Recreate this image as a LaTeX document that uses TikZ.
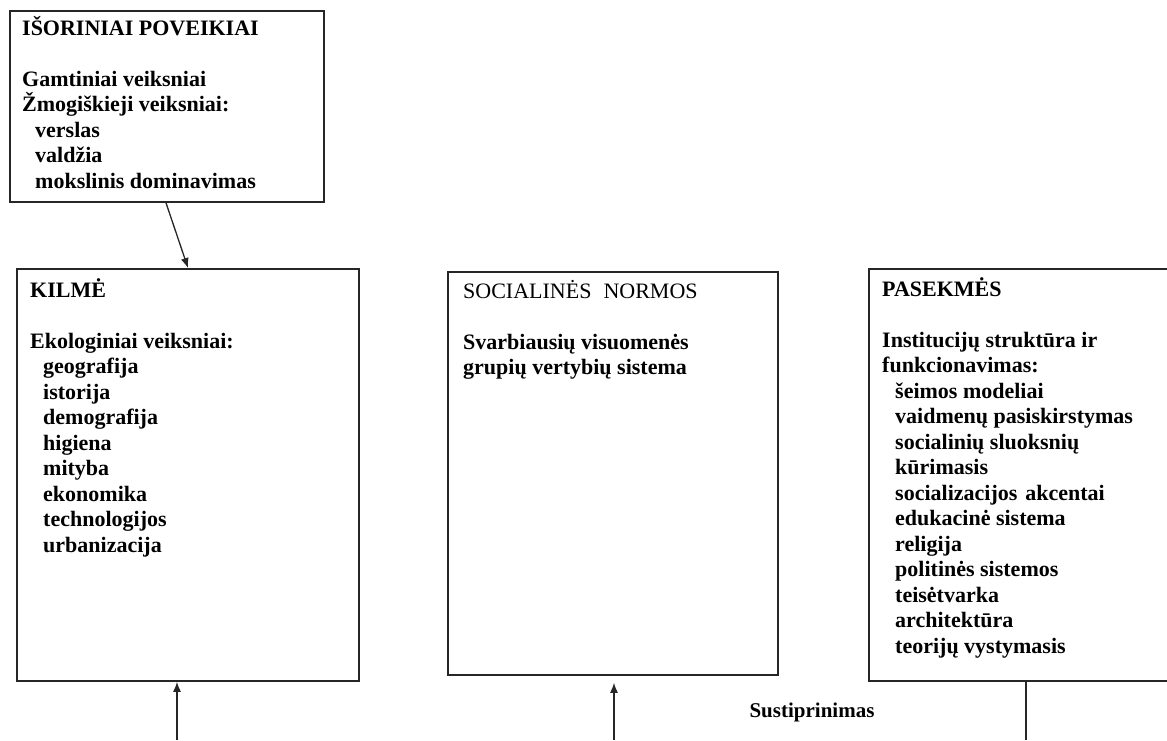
\documentclass[tikz,border=0pt]{standalone}
\usepackage{fontspec}
\setmainfont{Liberation Serif}
\usetikzlibrary{arrows.meta}
\newcommand\ind{\hspace*{13pt}}
\begin{document}
\begin{tikzpicture}[x=1pt,y=-1pt,
  frame/.style={draw=black!85,line width=1.8pt,inner sep=0pt,anchor=north west},
  txt/.style={anchor=base west,inner sep=0pt,font=\fontsize{22}{25.5}\selectfont\bfseries},
  link/.style={draw=black!85,line width=1.3pt},
  tip/.style={-{Latex[length=10pt,width=8pt]}}]
\clip (0,0) rectangle (1167,740);

% frames
\node[frame,minimum width=314pt,minimum height=191pt] (isor) at (9,10) {};
\node[frame,minimum width=342pt,minimum height=412pt] (kilme) at (16,268) {};
\node[frame,minimum width=330pt,minimum height=403pt] (norm) at (447,271) {};
\node[frame,minimum width=330pt,minimum height=412pt] (pas) at (868,268) {};

% frame contents
\node[txt] (isortxt) at (22,35) {\parbox[t]{300pt}{\raggedright
  IŠORINIAI POVEIKIAI\\[25.5pt]
  Gamtiniai veiksniai\\
  Žmogiškieji veiksniai:\\
  \ind verslas\\
  \ind valdžia\\
  \ind mokslinis dominavimas}};

\node[txt] (kilmetxt) at (30,297) {\parbox[t]{320pt}{\raggedright
  KILMĖ\\[25.5pt]
  Ekologiniai veiksniai:\\
  \ind geografija\\
  \ind istorija\\
  \ind demografija\\
  \ind higiena\\
  \ind mityba\\
  \ind ekonomika\\
  \ind technologijos\\
  \ind urbanizacija}};

\node[txt] (normtxt) at (463,298) {\parbox[t]{310pt}{\raggedright
  {\mdseries SOCIALINĖS\hspace{12pt}NORMOS}\\[25.5pt]
  Svarbiausių visuomenės\\
  grupių vertybių sistema}};

\node[txt] (pastxt) at (882,296) {\parbox[t]{300pt}{\raggedright
  PASEKMĖS\\[25.5pt]
  Institucijų struktūra ir\\
  funkcionavimas:\\
  \ind šeimos modeliai\\
  \ind vaidmenų pasiskirstymas\\
  \ind socialinių sluoksnių\\
  \ind kūrimasis\\
  \ind socializacijos\hspace{8pt}akcentai\\
  \ind edukacinė sistema\\
  \ind religija\\
  \ind politinės sistemos\\
  \ind teisėtvarka\\
  \ind architektūra\\
  \ind teorijų vystymasis}};

% connectors
\draw[link,tip] ([xshift=157pt]isor.south west) -- ([xshift=172pt]kilme.north west);
\coordinate (kin) at (177,740);
\draw[link,tip] (kin) -- (kin |- kilme.south);
\coordinate (nin) at (614,740);
\draw[link,tip] (nin) -- ([yshift=-7pt]nin |- norm.south);
\coordinate (pout) at (1026,740);
\draw[link] (pout |- pas.south) -- (pout);

\node[txt,font=\fontsize{21}{25.5}\selectfont\bfseries,anchor=base] (lab) at (812,717) {Sustiprinimas};
\end{tikzpicture}
\end{document}
